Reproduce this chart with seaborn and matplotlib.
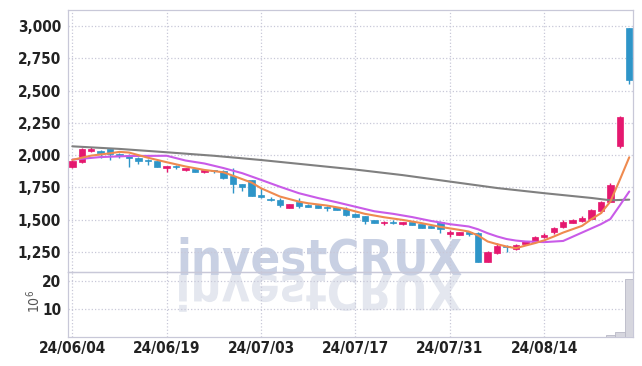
import numpy as np
import matplotlib
matplotlib.use("Agg")
import matplotlib.pyplot as plt
import seaborn as sns
from matplotlib.textpath import TextPath
from matplotlib.font_manager import FontProperties
from matplotlib.patches import PathPatch
from matplotlib.transforms import Affine2D, IdentityTransform

# daily prices (trading days 24/06/04 .. 24/08/28)
opens = [1910, 1947, 2035, 2034, 2045, 2009, 2001, 1980, 1965, 1955,
         1904, 1916, 1883, 1893, 1867, 1885, 1877, 1836, 1774, 1808,
         1692, 1658, 1653, 1593, 1640, 1616, 1617, 1601, 1596, 1583,
         1545, 1529, 1498, 1473, 1485, 1470, 1478, 1465, 1447, 1485,
         1388, 1384, 1403, 1400, 1175, 1245, 1297, 1274, 1315, 1326,
         1362, 1403, 1442, 1477, 1493, 1508, 1570, 1640, 2071, 2982]
highs = [1965, 2056, 2061, 2040, 2050, 2015, 2005, 1985, 1968, 1958,
         1918, 1920, 1900, 1895, 1886, 1888, 1888, 1898, 1780, 1810,
         1743, 1679, 1671, 1625, 1666, 1620, 1620, 1605, 1600, 1595,
         1548, 1532, 1500, 1490, 1500, 1484, 1481, 1468, 1450, 1487,
         1421, 1407, 1406, 1402, 1256, 1318, 1300, 1310, 1335, 1370,
         1395, 1442, 1494, 1505, 1525, 1580, 1643, 1782, 2300, 2985]
lows = [1900, 1940, 2024, 1980, 1962, 1978, 1908, 1932, 1924, 1906,
        1872, 1893, 1878, 1870, 1865, 1860, 1818, 1710, 1723, 1684,
        1666, 1648, 1601, 1590, 1593, 1597, 1590, 1568, 1573, 1530,
        1520, 1470, 1474, 1457, 1465, 1457, 1455, 1437, 1436, 1395,
        1369, 1382, 1377, 1172, 1172, 1233, 1253, 1262, 1312, 1322,
        1357, 1392, 1432, 1474, 1482, 1505, 1550, 1637, 2058, 2551]
closes = [1955, 2048, 2048, 2014, 2011, 1996, 1976, 1957, 1952, 1906,
          1914, 1908, 1898, 1872, 1883, 1875, 1821, 1774, 1751, 1686,
          1679, 1651, 1614, 1622, 1609, 1600, 1593, 1593, 1576, 1537,
          1524, 1493, 1477, 1485, 1475, 1481, 1457, 1439, 1439, 1429,
          1403, 1405, 1392, 1175, 1253, 1297, 1287, 1305, 1331, 1367,
          1385, 1439, 1485, 1501, 1516, 1576, 1640, 1769, 2298, 2582]
# volume in millions
volume = [0.05, 0.06, 0.05, 0.04, 0.04, 0.03, 0.04, 0.03, 0.03, 0.04,
          0.03, 0.03, 0.03, 0.03, 0.03, 0.03, 0.04, 0.06, 0.03, 0.04,
          0.03, 0.03, 0.04, 0.03, 0.03, 0.03, 0.03, 0.03, 0.03, 0.03,
          0.03, 0.03, 0.03, 0.03, 0.03, 0.03, 0.03, 0.03, 0.03, 0.03,
          0.03, 0.03, 0.03, 0.08, 0.06, 0.05, 0.03, 0.03, 0.03, 0.04,
          0.03, 0.05, 0.05, 0.03, 0.04, 0.06, 0.2, 0.8, 1.7, 21.0]

# moving averages (index, value)
ma5_idx = [0, 2, 4, 5, 6, 8, 10, 12, 14, 16, 17, 19, 20, 22, 24, 25, 27, 29,
           31, 33, 35, 37, 39, 41, 42, 43, 44, 45, 46, 47, 48, 49, 50, 51,
           52, 53, 54, 55, 56, 57, 58, 59]
ma5 = [1963, 1996, 2014, 2025, 2020, 1980, 1945, 1912, 1885, 1867, 1841,
       1787, 1743, 1679, 1640, 1627, 1609, 1583, 1545, 1519, 1498, 1473,
       1444, 1421, 1408, 1377, 1331, 1310, 1292, 1279, 1299, 1318, 1340,
       1369, 1400, 1426, 1452, 1504, 1550, 1640, 1808, 1983]
ma20_idx = [0, 3, 6, 10, 12, 14, 16, 18, 20, 22, 24, 26, 28, 30, 32, 34, 36,
            38, 40, 42, 43, 44, 45, 46, 47, 48, 50, 52, 54, 56, 57, 58, 59]
ma20 = [1965, 1985, 1993, 1995, 1958, 1935, 1900, 1860, 1808, 1755, 1705,
        1668, 1635, 1600, 1565, 1545, 1520, 1490, 1465, 1447, 1425, 1395,
        1370, 1350, 1338, 1331, 1326, 1335, 1400, 1465, 1505, 1610, 1718]
ma60_idx = [0, 5, 10, 15, 20, 25, 30, 35, 40, 45, 50, 55, 57, 59]
ma60 = [2068, 2048, 2022, 1995, 1962, 1925, 1888, 1845, 1795, 1745, 1705,
        1668, 1650, 1655]

tick_idx = [0, 10, 20, 30, 40, 50]
tick_labels = ["24/06/04", "24/06/19", "24/07/03", "24/07/17", "24/07/31", "24/08/14"]
price_ticks = [1250, 1500, 1750, 2000, 2250, 2500, 2750, 3000]

UP = "#e5186f"
DOWN = "#2e95c8"
GRID = "#c8c8d8"

sns.set_style("white")
plt.rcParams["font.family"] = ["Liberation Sans Narrow", "DejaVu Sans"]
plt.rcParams["font.stretch"] = "condensed"

fig = plt.figure(figsize=(6.42, 3.66), dpi=100)
fig.patch.set_facecolor("white")
ax = fig.add_axes([0.106, 0.257, 0.880, 0.716])
axv = fig.add_axes([0.106, 0.079, 0.880, 0.178], sharex=ax)
for a in (ax, axv):
    a.set_facecolor("none")

# watermark, squeezed to the width it has in the original
wm_size = 40
wm = fig.text(0.498, 0.249, "investCRUX", fontsize=wm_size, fontweight="bold",
              color="#c8d0e3", ha="center", va="baseline", zorder=-1)
renderer = fig.canvas.get_renderer()
w = wm.get_window_extent(renderer).width
if w > 290:
    wm_size = wm_size * 286 / w
    wm.set_fontsize(wm_size)
fp = FontProperties(family=["Liberation Sans Narrow", "DejaVu Sans"], weight="bold",
                    stretch="condensed")
tp = TextPath((0, 0), "investCRUX", size=wm_size * 100 / 72, prop=fp)
ext = tp.get_extents()
tr = Affine2D().translate(-(ext.x0 + ext.x1) / 2, 0).scale(1, -1).translate(320, 366 * 0.249)
refl = PathPatch(tr.transform_path(tp), transform=IdentityTransform(),
                 facecolor="#e4e7ef", edgecolor="none", zorder=-1)
fig.add_artist(refl)

x = np.arange(len(opens))
o = np.array(opens)
c = np.array(closes)
colors = [UP if cc >= oo else DOWN for oo, cc in zip(o, c)]

ax.vlines(x, lows, highs, colors=colors, lw=1, zorder=2)
ax.bar(x, np.maximum(np.abs(c - o), 3), bottom=np.minimum(o, c), width=0.68,
       color=colors, edgecolor=colors, lw=0.5, zorder=3)

sns.lineplot(x=ma60_idx, y=ma60, ax=ax, color="#808080", lw=1.5, zorder=4)
sns.lineplot(x=ma20_idx, y=ma20, ax=ax, color="#c95be8", lw=1.5, zorder=4)
sns.lineplot(x=ma5_idx, y=ma5, ax=ax, color="#ef8a4f", lw=1.5, zorder=4)

axv.bar(x, volume, width=1.0, color="#d6d6de", edgecolor="#b8b8c6", lw=0.6, zorder=3)

ax.set_xlim(-0.45, 59.4)
ax.set_ylim(1095, 3125)
ax.set_yticks(price_ticks)
ax.set_yticklabels([f"{v:,}" for v in price_ticks])
axv.set_ylim(0, 23.4)
axv.set_yticks([10, 20])
axv.set_xticks(tick_idx)
axv.set_xticklabels(tick_labels)
plt.setp(ax.get_xticklabels(), visible=False)

for a in (ax, axv):
    a.grid(True, ls=":", color=GRID, lw=0.9)
    a.tick_params(length=0, labelsize=11, pad=5)
    for s in a.spines.values():
        s.set_color(GRID)
        s.set_linewidth(0.9)
    for lab in a.get_yticklabels() + a.get_xticklabels():
        lab.set_fontweight("bold")
        lab.set_color("#222222")
axv.tick_params(axis="x", pad=3)
axv.set_ylabel("10$^{6}$", fontsize=10, color="#555555", family="DejaVu Sans")
axv.yaxis.set_label_coords(-0.045, 0.55)

fig.savefig("out.png", dpi=100)
